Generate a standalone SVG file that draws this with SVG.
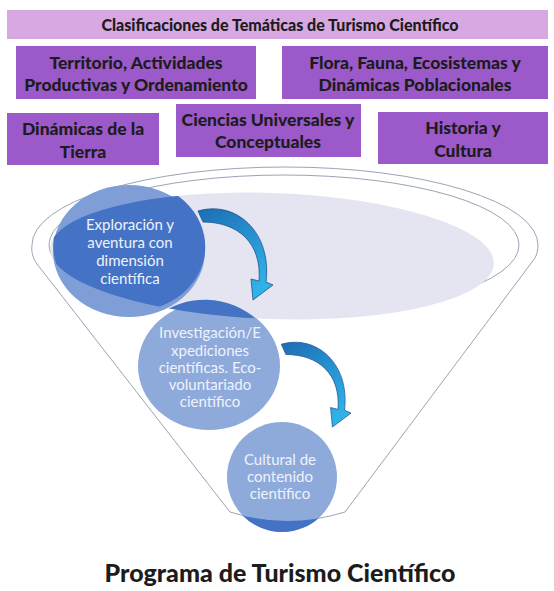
<svg xmlns="http://www.w3.org/2000/svg" width="554" height="591" viewBox="0 0 554 591">
<defs>
<style>
.hdr{font-family:Lato,"Open Sans",sans-serif;font-weight:900;fill:#1c1c1c;text-anchor:middle}
.box{fill:#9b59c9}
.ct{font-family:Lato,"Open Sans",sans-serif;font-size:15px;fill:#eef2fb;text-anchor:middle}
.rim{fill:none;stroke:#9aa3b5;stroke-width:1}
.arrow{fill:url(#ag);stroke:#24508f;stroke-width:0.8}
</style>
<linearGradient id="ag" x1="0" y1="0" x2="0.6" y2="1">
<stop offset="0" stop-color="#1c6db4"/><stop offset="1" stop-color="#2fb2e8"/>
</linearGradient>
<clipPath id="clipC1"><ellipse cx="129" cy="251" rx="76" ry="66"/></clipPath>
<clipPath id="clipC2"><ellipse cx="209" cy="366" rx="71" ry="64"/></clipPath>
<clipPath id="clipBottom"><path d="M 200 505 L 230 512 Q 287 530 345 512 L 380 505 L 380 560 L 200 560 Z"/></clipPath>
</defs>

<g id="funnel">
<path class="rim" fill="#ffffff" d="M 37 264 C 33 258 31 252 32 245 A 253 78 0 0 1 538 245 C 538 250 537 254 535 258 L 345 512 Q 287 530 230 512 Z"/>
<ellipse class="rim" cx="284" cy="245" rx="235" ry="70"/>
<ellipse cx="272" cy="256" rx="222" ry="63" fill="#e4e5f1" transform="rotate(2 272 256)"/>
</g>

<g id="header">
<rect x="7" y="10" width="541" height="29" fill="#d8a8e2"/>
<text class="hdr" x="280" y="31" font-size="16">Clasificaciones de Temáticas de Turismo Científico</text>
</g>
<g id="territorio">
<rect class="box" x="16" y="46" width="240" height="53"/>
<text class="hdr" font-size="17.5"><tspan x="136" y="69">Territorio, Actividades</tspan><tspan x="136" y="91">Productivas y Ordenamiento</tspan></text>
</g>
<g id="flora">
<rect class="box" x="282" y="46" width="266" height="53"/>
<text class="hdr" font-size="17.5"><tspan x="415" y="69">Flora, Fauna, Ecosistemas y</tspan><tspan x="415" y="91">Dinámicas Poblacionales</tspan></text>
</g>
<g id="dinamicas">
<rect class="box" x="7" y="113" width="152" height="52"/>
<text class="hdr" font-size="17.5"><tspan x="83" y="135">Dinámicas de la</tspan><tspan x="83" y="158">Tierra</tspan></text>
</g>
<g id="ciencias">
<rect class="box" x="176" y="104" width="185" height="53"/>
<text class="hdr" font-size="17.5"><tspan x="268" y="126">Ciencias Universales y</tspan><tspan x="268" y="148">Conceptuales</tspan></text>
</g>
<g id="historia">
<rect class="box" x="378" y="112" width="170" height="52"/>
<text class="hdr" font-size="17.5"><tspan x="463" y="134">Historia y</tspan><tspan x="463" y="157">Cultura</tspan></text>
</g>

<g id="exploracion">
<ellipse cx="129" cy="251" rx="76" ry="66" fill="#7f9ed7"/>
<ellipse cx="272" cy="256" rx="222" ry="63" fill="#4472c4" transform="rotate(2 272 256)" clip-path="url(#clipC1)"/>
<text class="ct"><tspan x="130" y="230">Exploración y</tspan><tspan x="130" y="248">aventura con</tspan><tspan x="130" y="266">dimensión</tspan><tspan x="130" y="284">científica</tspan></text>
</g>
<g id="investigacion">
<ellipse cx="209" cy="366" rx="71" ry="64" fill="#8eaadb"/>
<ellipse cx="272" cy="256" rx="222" ry="63" fill="#4472c4" transform="rotate(2 272 256)" clip-path="url(#clipC2)"/>
<text class="ct"><tspan x="210" y="338">Investigación/E</tspan><tspan x="210" y="356">xpediciones</tspan><tspan x="210" y="373">científicas. Eco-</tspan><tspan x="210" y="390">voluntariado</tspan><tspan x="210" y="407">científico</tspan></text>
</g>
<g id="cultural">
<circle cx="282" cy="477" r="55" fill="#8eaadb"/>
<circle cx="282" cy="477" r="55" fill="#4472c4" clip-path="url(#clipBottom)"/>
<text class="ct"><tspan x="280" y="465">Cultural de</tspan><tspan x="280" y="482">contenido</tspan><tspan x="280" y="499">científico</tspan></text>
</g>

<g id="connectors">
<path class="arrow" d="M 198 211 C 236 200 272 232 266 282 L 273 285 L 253 300 L 251 279 L 259 281 C 262 243 238 222 203 222 Z"/>
<path class="arrow" transform="translate(285 348) scale(0.93) translate(-202 -215)" d="M 198 211 C 236 200 272 232 266 282 L 273 285 L 253 300 L 251 279 L 259 281 C 262 243 238 222 203 222 Z"/>
</g>

<g id="title">
<text class="hdr" x="280" y="582" font-size="25">Programa de Turismo Científico</text>
</g>
</svg>
